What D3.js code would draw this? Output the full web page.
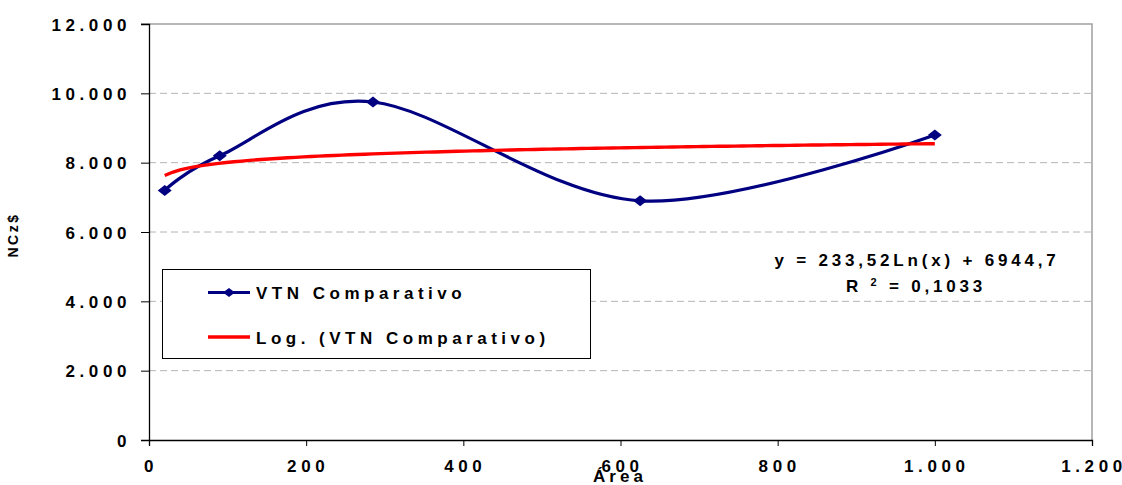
<!DOCTYPE html>
<html>
<head>
<meta charset="utf-8">
<script src="https://cdn.jsdelivr.net/npm/d3@7"></script>
<style>
  body { margin: 0; background: #fff; }
  text { font-family: "Liberation Sans", Arial, sans-serif; font-weight: bold; fill: #000; }
</style>
</head>
<body>
<svg id="chart" width="1122" height="485"></svg>
<script>
// values
var areas = [20, 90, 285, 625, 1000];
var vtn = [7200, 8200, 9750, 6900, 8800];
var xTicks = [0, 200, 400, 600, 800, 1000, 1200];
var yTicks = [0, 2000, 4000, 6000, 8000, 10000, 12000];
var seriesNames = ['VTN Comparativo', 'Log. (VTN Comparativo)'];
var equationText = ['y = 233,52Ln(x) + 6944,7', '= 0,1033'];

(function() {
    var svg = d3.select('#chart');
    var plotLeft = 149, plotRight = 1092, plotTop = 24, plotBottom = 440;

    var x = d3.scaleLinear().domain([0, 1200]).range([plotLeft, plotRight]);
    var y = d3.scaleLinear().domain([0, 12000]).range([plotBottom, plotTop]);

    // thousand separator is a dot in the original
    var fmt = function(v) {
        return d3.format(',')(v).replace(/,/g, '.');
    };

    // log trend fitted to the points (least squares on ln x)
    var lx = areas.map(function(a) { return Math.log(a); });
    var mx = d3.mean(lx), my = d3.mean(vtn);
    var sxy = d3.sum(lx, function(v, i) { return (v - mx) * (vtn[i] - my); });
    var sxx = d3.sum(lx, function(v) { return (v - mx) * (v - mx); });
    var slope = sxy / sxx, intercept = my - slope * mx;
    var trendX = d3.range(0, 101).map(function(i) {
        return areas[0] + (areas[areas.length - 1] - areas[0]) * i / 100;
    });

    // gridlines
    svg.append('g').selectAll('line')
        .data(yTicks.filter(function(t) { return t > 0 && t < 12000; }))
        .enter().append('line')
        .attr('x1', plotLeft).attr('x2', plotRight)
        .attr('y1', function(d) { return y(d); }).attr('y2', function(d) { return y(d); })
        .attr('stroke', '#b4b4b4').attr('stroke-dasharray', '7,4');

    // plot border top / right
    svg.append('path')
        .attr('d', 'M' + (plotLeft - 8) + ',' + y(12000) + 'H' + plotRight + 'V' + plotBottom)
        .attr('fill', 'none').attr('stroke', '#a0a0a0').attr('stroke-width', 1.5);

    // axes
    var yAxis = svg.append('g').attr('transform', 'translate(' + plotLeft + ',0)')
        .call(d3.axisLeft(y).tickValues(yTicks).tickSize(8).tickPadding(10).tickFormat(fmt));
    var xAxis = svg.append('g').attr('transform', 'translate(0,' + plotBottom + ')')
        .call(d3.axisBottom(x).tickValues(xTicks).tickSize(6).tickPadding(14).tickFormat(fmt));

    [yAxis, xAxis].forEach(function(ax) {
        ax.select('.domain').attr('stroke', '#000').attr('stroke-width', 1.3);
        ax.selectAll('.tick line').attr('stroke', '#000');
        ax.selectAll('text')
            .attr('fill', '#000')
            .style('font-size', '17px')
            .style('font-family', '"Liberation Sans", Arial, sans-serif')
            .style('font-weight', 'bold')
            .style('letter-spacing', '4.6px');
    });
    yAxis.selectAll('text').attr('dx', '0px').attr('dy', '0.36em');
    xAxis.selectAll('text').attr('dx', '1.5px').attr('dy', '0.72em');

    // series line
    var line = d3.line()
        .x(function(d, i) { return x(areas[i]); })
        .y(function(d) { return y(d); })
        .curve(d3.curveCardinal.tension(0));

    svg.append('path').datum(vtn)
        .attr('d', line)
        .attr('fill', 'none').attr('stroke', '#000080').attr('stroke-width', 3.2);

    // trend line
    svg.append('path').datum(trendX)
        .attr('d', d3.line()
            .x(function(d) { return x(d); })
            .y(function(d) { return y(slope * Math.log(d) + intercept); }))
        .attr('fill', 'none').attr('stroke', '#ff0000').attr('stroke-width', 3.4);

    var diamond = 'M0,-5.5L7,0L0,5.5L-7,0Z';

    svg.append('g').selectAll('path')
        .data(vtn).enter().append('path')
        .attr('d', diamond)
        .attr('transform', function(d, i) { return 'translate(' + x(areas[i]) + ',' + y(d) + ')'; })
        .attr('fill', '#000080');

    // legend
    var lg = svg.append('g');
    lg.append('rect')
        .attr('x', 162.5).attr('y', 269.5).attr('width', 428).attr('height', 89)
        .attr('fill', '#fff').attr('stroke', '#000').attr('stroke-width', 1);

    var rows = [292.5, 337];
    lg.append('line').attr('x1', 208).attr('x2', 250).attr('y1', rows[0]).attr('y2', rows[0])
        .attr('stroke', '#000080').attr('stroke-width', 3.2);
    lg.append('path').attr('d', 'M0,-4.5L6,0L0,4.5L-6,0Z')
        .attr('transform', 'translate(229,' + rows[0] + ')').attr('fill', '#000080');
    lg.append('line').attr('x1', 208).attr('x2', 250).attr('y1', rows[1]).attr('y2', rows[1])
        .attr('stroke', '#ff0000').attr('stroke-width', 3.4);

    lg.selectAll('text.item').data(seriesNames).enter().append('text')
        .attr('class', 'item')
        .attr('x', 256)
        .attr('y', function(d, i) { return rows[i] + 6.5; })
        .style('font-size', '17px').style('letter-spacing', '4.5px')
        .text(function(d) { return d; });

    // equation
    svg.append('text')
        .attr('x', 917).attr('y', 266).attr('text-anchor', 'middle')
        .style('font-size', '17px').style('letter-spacing', '3.8px')
        .text(equationText[0]);
    var r2 = svg.append('text')
        .attr('x', 916).attr('y', 292).attr('text-anchor', 'middle')
        .style('font-size', '17px').style('letter-spacing', '3.8px');
    r2.append('tspan').text('R ');
    r2.append('tspan').attr('dy', -6).style('font-size', '11px').text('2');
    r2.append('tspan').attr('dy', 6).text(' ' + equationText[1]);

    // axis titles
    svg.append('text')
        .attr('x', 620).attr('y', 482).attr('text-anchor', 'middle')
        .style('font-size', '17px').style('letter-spacing', '4px')
        .text('Área');

    svg.append('text')
        .attr('transform', 'translate(18,235) rotate(-90)')
        .attr('text-anchor', 'middle')
        .style('font-size', '14px').style('letter-spacing', '2.5px')
        .text('NCz$');
})();
</script>
</body>
</html>
